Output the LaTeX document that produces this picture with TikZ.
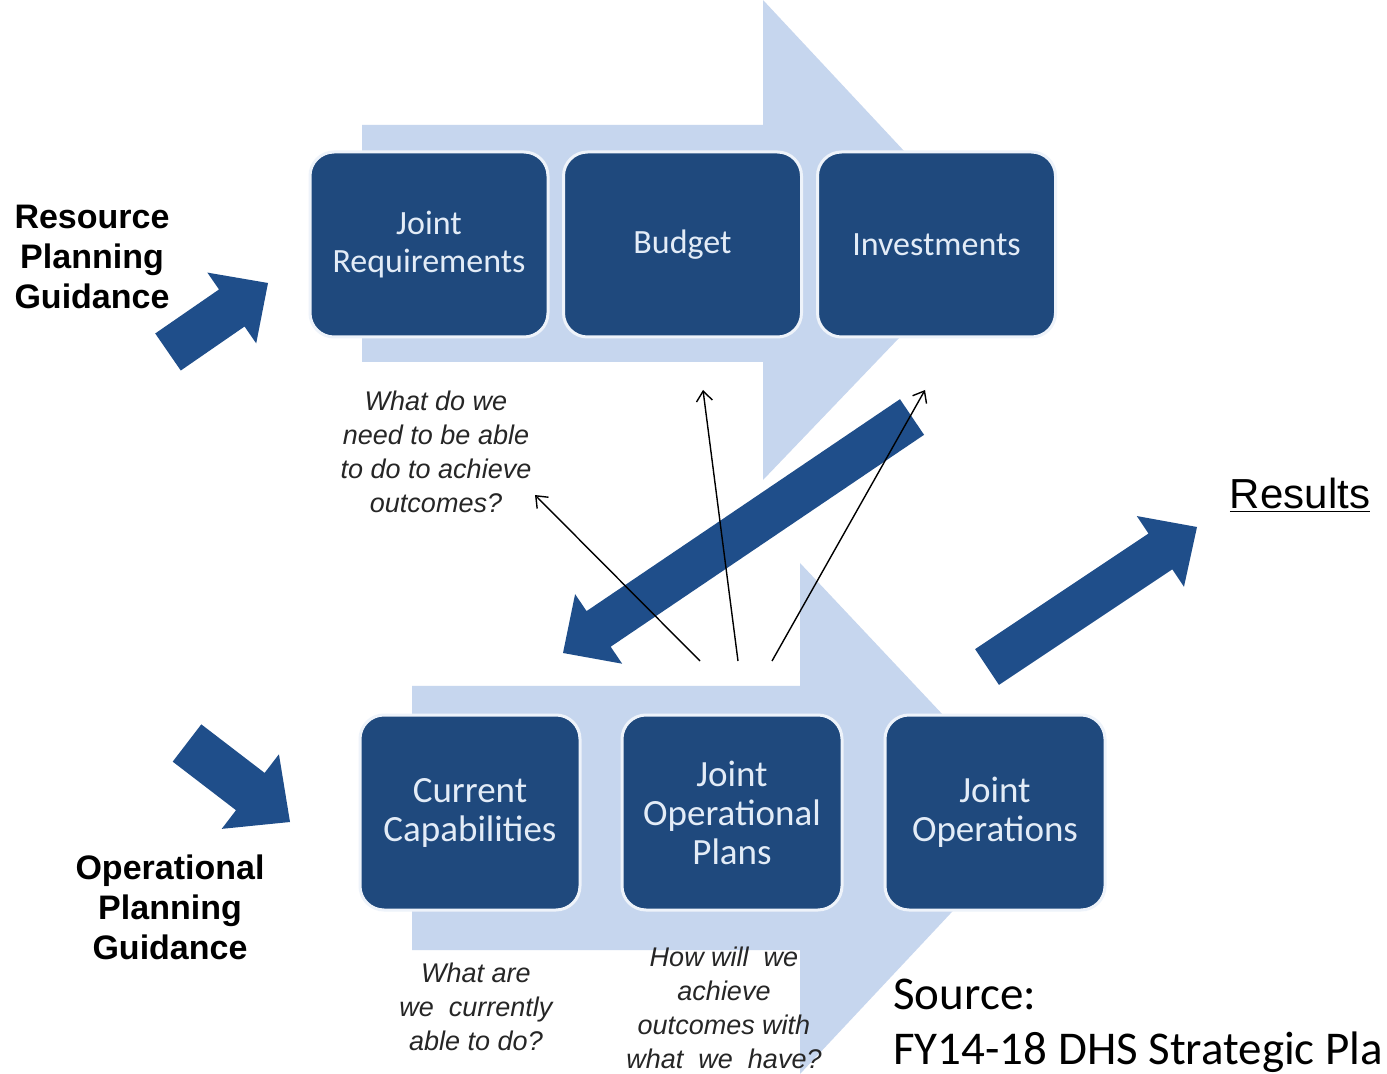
\documentclass[tikz,border=0pt]{standalone}
\usepackage{fontspec}
\setmainfont{Liberation Sans}
\newfontfamily\carlito{Carlito}
\usetikzlibrary{calc,arrows.meta}
\definecolor{boxblue}{HTML}{1F497D}
\definecolor{arrowblue}{HTML}{1F4E8A}
\definecolor{lightband}{HTML}{C6D6EE}
\definecolor{boxtext}{HTML}{E3ECF7}
\definecolor{boxedge}{HTML}{EEF3FA}
\newcommand\blockarrow[5]{%
  \coordinate (ba-h) at ($(#2)!#5!(#1)$);
  \fill[arrowblue] ($(#1)!#3!90:(#2)$) -- ($(ba-h)!#3!90:(#2)$) -- ($(ba-h)!#4!90:(#2)$) -- (#2)
     -- ($(ba-h)!#4!-90:(#2)$) -- ($(ba-h)!#3!-90:(#2)$) -- ($(#1)!#3!-90:(#2)$) -- cycle;
}
\tikzset{
  stagebox/.style={draw=boxedge, line width=1.5pt, fill=boxblue, rounded corners=12pt,
    text=boxtext, align=center, inner sep=0pt},
  topbox/.style={stagebox, minimum width=119pt, minimum height=92.5pt,
    font=\carlito\fontsize{17}{19}\selectfont},
  botbox/.style={stagebox, minimum width=110pt, minimum height=97.5pt,
    font=\carlito\fontsize{18.5}{19.5}\selectfont},
  guidance/.style={align=center, font=\bfseries\fontsize{17}{20}\selectfont},
  question/.style={align=center, font=\itshape\fontsize{13.5}{17}\selectfont, text=black!85},
  thinarrow/.style={line width=0.7pt, -{Straight Barb[length=5pt,width=8pt]}}
}
\begin{document}
\begin{tikzpicture}[x=0.5pt,y=-0.5pt]
\clip (0,0) rectangle (1387,1074);
\fill[white] (0,0) rectangle (1387,1074);

% large light process arrows
\fill[lightband] (362,125) -- (763,125) -- (763,0) -- (990,243) -- (763,480) -- (763,362) -- (362,362) -- cycle;
\fill[lightband] (412,686) -- (800,686) -- (800,563) -- (1040,818) -- (800,1074) -- (800,950) -- (412,950) -- cycle;

% boxes
\node[topbox] (jr) at (429,244.5) {Joint\\Requirements};
\node[topbox] (bud) at (682.5,244.5) {Budget};
\node[topbox] (inv) at (936.5,244.5) {Investments};
\node[botbox] (cc) at (470,812.5) {Current\\Capabilities};
\node[botbox] (jop) at (732,812.5) {Joint\\Operational\\Plans};
\node[botbox] (jo) at (995,812.5) {Joint\\Operations};

% guidance labels
\node[guidance] (rpg) at (92,257) {Resource\\Planning\\Guidance};
\node[guidance] (opg) at (170,907) {Operational\\Planning\\Guidance};
\node[font=\fontsize{21}{25}\selectfont] (res) at (1300,495) {\underline{Results}};

% block arrows
\coordinate (r1t) at (168,352); \coordinate (r1h) at (268,283);
\coordinate (o1t) at (187,743); \coordinate (o1h) at (290,822);
\coordinate (x1t) at (987,667); \coordinate (x1h) at (1197,527);
\coordinate (d1t) at (912,417); \coordinate (d1h) at (563,653);
\blockarrow{r1t}{r1h}{11.25pt}{21.5pt}{22pt}
\blockarrow{o1t}{o1h}{11.75pt}{23.5pt}{25pt}
\blockarrow{x1t}{x1h}{10.75pt}{21.25pt}{22pt}
\blockarrow{d1t}{d1h}{10.75pt}{21pt}{21.5pt}

% questions
\node[question] (q1) at (436,452) {What do we\\need to be able\\to do to achieve\\outcomes?};
\node[question] (q2) at (476,1007) {What are\\we\ \ currently\\able to do?};
\node[question] (q3) at (724,1008) {How will\ \ we\\achieve\\outcomes with\\what\ \ we\ \ have?};

% thin arrows
\coordinate (s1) at (700,661); \coordinate (e1) at (535,495);
\coordinate (s2) at (738,661); \coordinate (e2) at (703,390);
\coordinate (s3) at (772,661); \coordinate (e3) at (925,390);
\draw[thinarrow] (s1) -- (e1);
\draw[thinarrow] (s2) -- (e2);
\draw[thinarrow] (s3) -- (e3);

% source
\node[anchor=west, align=left, inner sep=0pt, font=\carlito\fontsize{23.5}{27.5}\selectfont] (src) at (893,1026)
  {Source:\\FY14-18 DHS Strategic Pla};
\end{tikzpicture}
\end{document}
